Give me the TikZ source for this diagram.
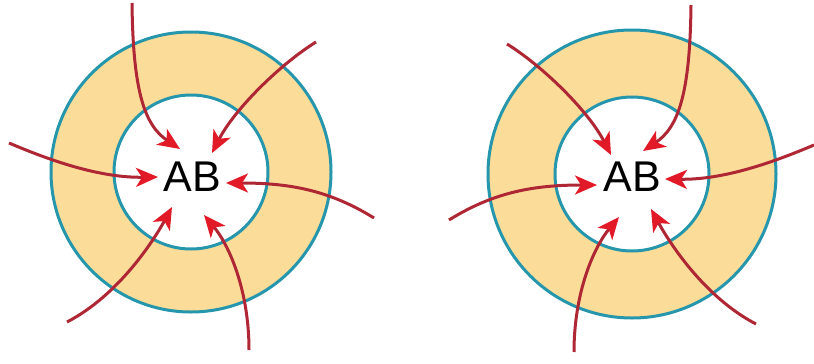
\documentclass[tikz,border=0pt]{standalone}
\usepackage{fontspec}
\setmainfont{Liberation Sans}
\usepackage{tikz}
\usetikzlibrary{arrows.meta}

\definecolor{ringfill}{RGB}{251,221,153}
\definecolor{ringline}{RGB}{38,150,172}
\definecolor{shaftred}{RGB}{175,38,52}
\definecolor{headred}{RGB}{226,26,40}

\tikzset{
  ringedge/.style={draw=ringline, line width=3pt},
  flowarrow/.style={draw=shaftred, line width=3pt,
    -{Stealth[length=22pt, width=19pt, inset=6pt, color=headred]}},
  label/.style={font=\fontsize{43}{50}\selectfont, inner sep=0pt}
}

% start / control / control / tip, relative to the ring centre
\def\arrowdata{1/-59/-169/-58/-82/-47/-47/-11/-23,
  2/125/-130/88/-107/43/-62/21/-19,
  3/-182/-29/-142/-12/-92/6/-33/5,
  4/183/46/138/18/98/11/35/11,
  5/-124/150/-72/123/-37/68/-19/35,
  6/58/178/58/118/38/73/13/43}

\begin{document}
\begin{tikzpicture}[x=1pt, y=-1pt]
  \useasboundingbox (0,0) rectangle (814,364);

  % left ring
  \begin{scope}[shift={(191,172)}]
    \fill[ringfill] (0,0) circle (140);
    \fill[white] (0,0) circle (77);
    \draw[ringedge] (0,0) circle (140);
    \draw[ringedge] (0,0) circle (77);
    \foreach \n/\sx/\sy/\ax/\ay/\bx/\by/\ex/\ey in \arrowdata {
      \coordinate (lfrom\n) at (\sx,\sy);
      \coordinate (lto\n) at (\ex,\ey);
      \draw[flowarrow] (lfrom\n) .. controls (\ax,\ay) and (\bx,\by) .. (lto\n);
    }
    \node[label] (leftab) at (1,5) {AB};
  \end{scope}

  % right ring, mirrored
  \begin{scope}[shift={(632,174)}, xscale=-1]
    \fill[ringfill] (0,0) circle (144);
    \fill[white] (0,0) circle (77);
    \draw[ringedge] (0,0) circle (144);
    \draw[ringedge] (0,0) circle (77);
    \foreach \n/\sx/\sy/\ax/\ay/\bx/\by/\ex/\ey in \arrowdata {
      \coordinate (rfrom\n) at (\sx,\sy);
      \coordinate (rto\n) at (\ex,\ey);
      \draw[flowarrow] (rfrom\n) .. controls (\ax,\ay) and (\bx,\by) .. (rto\n);
    }
    \node[label] (rightab) at (0,3) {AB};
  \end{scope}
\end{tikzpicture}
\end{document}
